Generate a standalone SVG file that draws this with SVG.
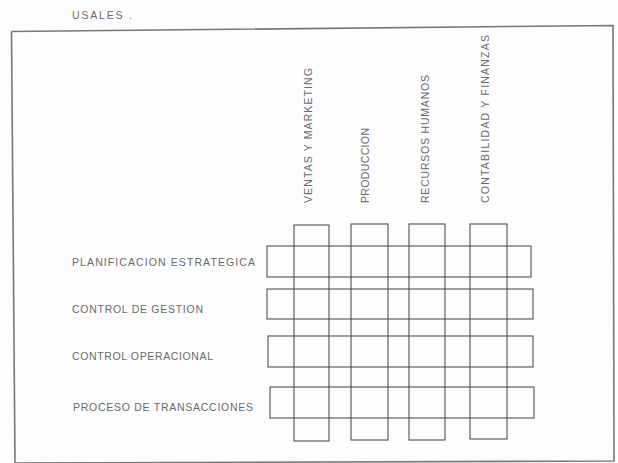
<svg xmlns="http://www.w3.org/2000/svg" width="618" height="463" viewBox="0 0 618 463">
<style>
.box{fill:none;stroke:#505050;stroke-width:1.1}
.lbl{font-family:"Liberation Sans",Arial,sans-serif;font-size:10.5px;fill:#6a6a6a}
.frame{fill:none;stroke:#777;stroke-width:1.6}
</style>
<rect width="618" height="463" fill="#fdfdfd"/>
<text class="lbl" x="72" y="19" font-size="9" textLength="60" lengthAdjust="spacing" fill="#9a9a9a">USALES .</text>
<path class="frame" d="M11.5,31.5 L613,25.5 L614,461 L15,463"/>
<line x1="11.5" y1="31.5" x2="15" y2="463" stroke="#777" stroke-width="1.6"/>
<g id="columns">
<g id="col-ventas"><rect class="box" x="294" y="225" width="35" height="216"/>
<text class="lbl" transform="translate(311.5,203) rotate(-90)" textLength="135" lengthAdjust="spacing">VENTAS Y MARKETING</text></g>
<g id="col-produccion"><rect class="box" x="351" y="224" width="37" height="216"/>
<text class="lbl" transform="translate(368.5,203) rotate(-90)" textLength="75" lengthAdjust="spacing">PRODUCCION</text></g>
<g id="col-rrhh"><rect class="box" x="409" y="224" width="36" height="216"/>
<text class="lbl" transform="translate(428.5,203) rotate(-90)" textLength="128" lengthAdjust="spacing">RECURSOS HUMANOS</text></g>
<g id="col-contabilidad"><rect class="box" x="470" y="224" width="37" height="215"/>
<text class="lbl" transform="translate(488.5,203) rotate(-90)" textLength="168" lengthAdjust="spacing">CONTABILIDAD Y FINANZAS</text></g>
</g>
<g id="rows">
<g id="row-planificacion"><rect class="box" x="267" y="246" width="264" height="31"/>
<text class="lbl" x="72" y="265.5" textLength="183" lengthAdjust="spacing">PLANIFICACION ESTRATEGICA</text></g>
<g id="row-gestion"><rect class="box" x="267" y="289" width="266" height="30"/>
<text class="lbl" x="72" y="312.5" textLength="131" lengthAdjust="spacing">CONTROL DE GESTION</text></g>
<g id="row-operacional"><rect class="box" x="268" y="336" width="265" height="31"/>
<text class="lbl" x="72" y="360" textLength="141" lengthAdjust="spacing">CONTROL OPERACIONAL</text></g>
<g id="row-transacciones"><rect class="box" x="270" y="387" width="264" height="31"/>
<text class="lbl" x="73" y="410.5" textLength="180" lengthAdjust="spacing">PROCESO DE TRANSACCIONES</text></g>
</g>
<g id="connectors"></g>
</svg>
